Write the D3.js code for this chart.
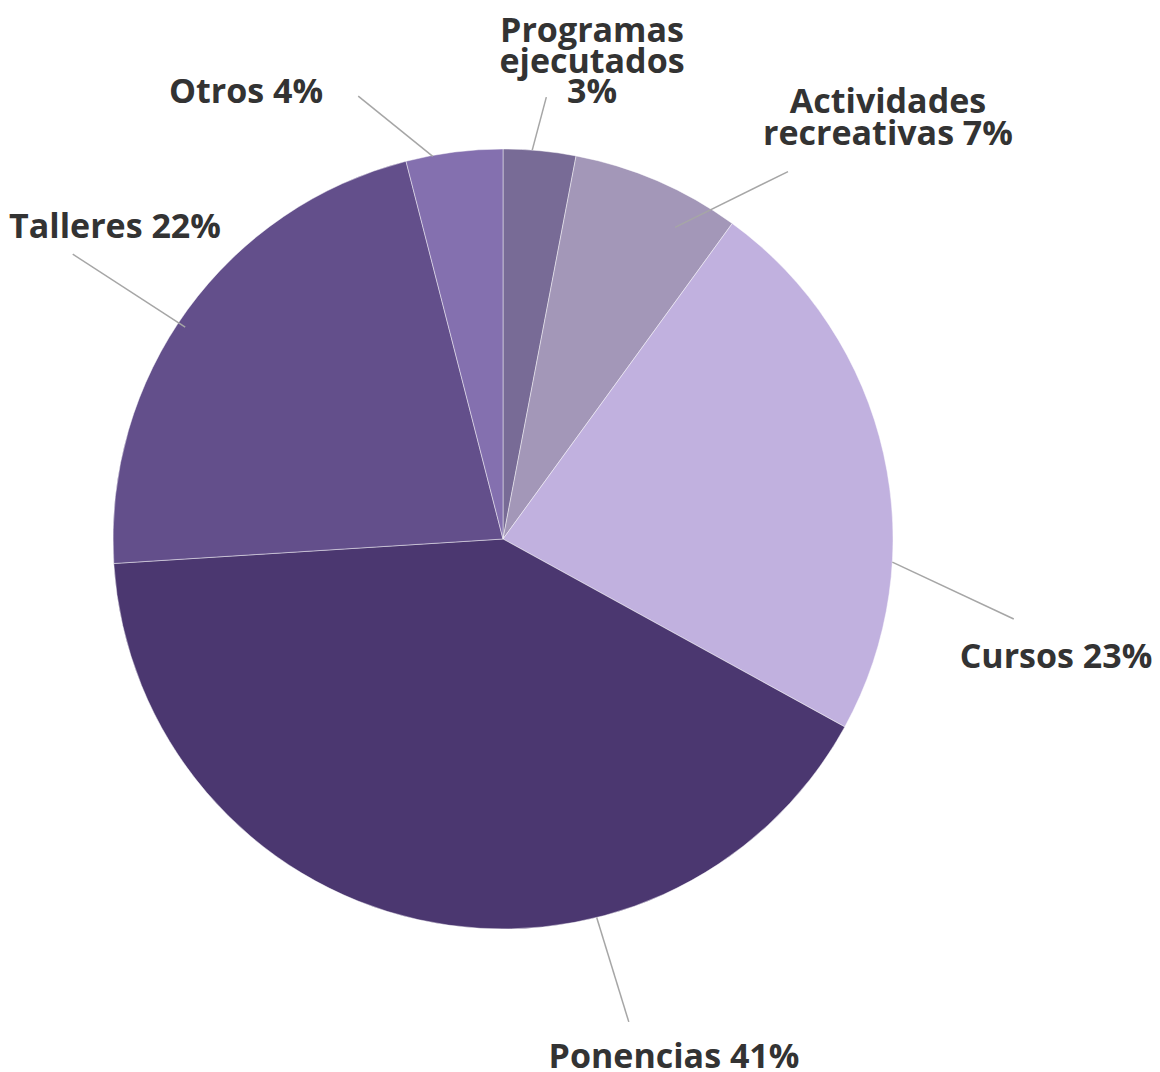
<!DOCTYPE html>
<html>
<head>
<meta charset="utf-8">
<script src="https://cdn.jsdelivr.net/npm/d3@7"></script>
<style>
  html, body { margin: 0; padding: 0; background: #fff; }
  svg text { font-family: "Open Sans", "Noto Sans", sans-serif; font-weight: 700; fill: #333; }
</style>
</head>
<body>
<div id="chart"></div>
<script>
// Data
const categories = ["Programas ejecutados", "Actividades recreativas", "Cursos", "Ponencias", "Talleres", "Otros"];
const values = [3, 7, 23, 41, 22, 4];
const labelLines = [
  ["Programas", "ejecutados", "3%"],
  ["Actividades", "recreativas 7%"],
  ["Cursos 23%"],
  ["Ponencias 41%"],
  ["Talleres 22%"],
  ["Otros 4%"]
];
const colors = ["#786b96", "#a397b8", "#c1b1df", "#4b3770", "#634f8b", "#8470af"];

// Layout (relative to pie centre): leader start/end as [angleDeg, radius], label anchor
const layout = [
  { from: [4.3, 390], to: [5.6, 444], label: [89, -497], lh: 30.5 },
  { from: [28.9, 356], to: [37.8, 465], label: [385, -426], lh: 32 },
  { from: [93.4, 390], to: [98.9, 517], label: [553, 129], lh: 32 },
  { from: [166.1, 390], to: [165.4, 499], label: [171, 529], lh: 32 },
  { from: [303.7, 382], to: [303.5, 516], label: [-388, -301], lh: 32 },
  { from: [349.6, 389], to: [341.9, 466], label: [-257, -436], lh: 32 }
];

const width = 1160, height = 1072;
const cx = 503, cy = 539, radius = 390;

const svg = d3.select("#chart").append("svg")
  .attr("width", width)
  .attr("height", height);

const g = svg.append("g").attr("transform", `translate(${cx},${cy})`);

const pie = d3.pie().sort(null).value(d => d)(values);
const arc = d3.arc().innerRadius(0).outerRadius(radius);

g.selectAll("path.slice")
  .data(pie)
  .enter()
  .append("path")
  .attr("class", "slice")
  .attr("d", arc)
  .attr("fill", (d, i) => colors[i])
  .attr("stroke", "rgba(255,255,255,0.45)")
  .attr("stroke-width", 1);

const polar = ([a, r]) => {
  const t = a * Math.PI / 180;
  return [r * Math.sin(t), -r * Math.cos(t)];
};

// Leader lines
g.selectAll("line.leader")
  .data(layout)
  .enter()
  .append("line")
  .attr("class", "leader")
  .attr("x1", d => polar(d.from)[0])
  .attr("y1", d => polar(d.from)[1])
  .attr("x2", d => polar(d.to)[0])
  .attr("y2", d => polar(d.to)[1])
  .attr("stroke", "#a6a6a6")
  .attr("stroke-width", 1.5);

// Labels
const labels = g.selectAll("text.label")
  .data(labelLines)
  .enter()
  .append("text")
  .attr("class", "label")
  .attr("text-anchor", "middle")
  .attr("font-size", 34)
  .attr("x", (d, i) => layout[i].label[0])
  .attr("y", (d, i) => layout[i].label[1]);

labels.each(function(lines, i) {
  const t = d3.select(this);
  lines.forEach((line, j) => {
    t.append("tspan")
      .attr("x", layout[i].label[0])
      .attr("y", layout[i].label[1] + j * layout[i].lh)
      .text(line);
  });
});
</script>
</body>
</html>
